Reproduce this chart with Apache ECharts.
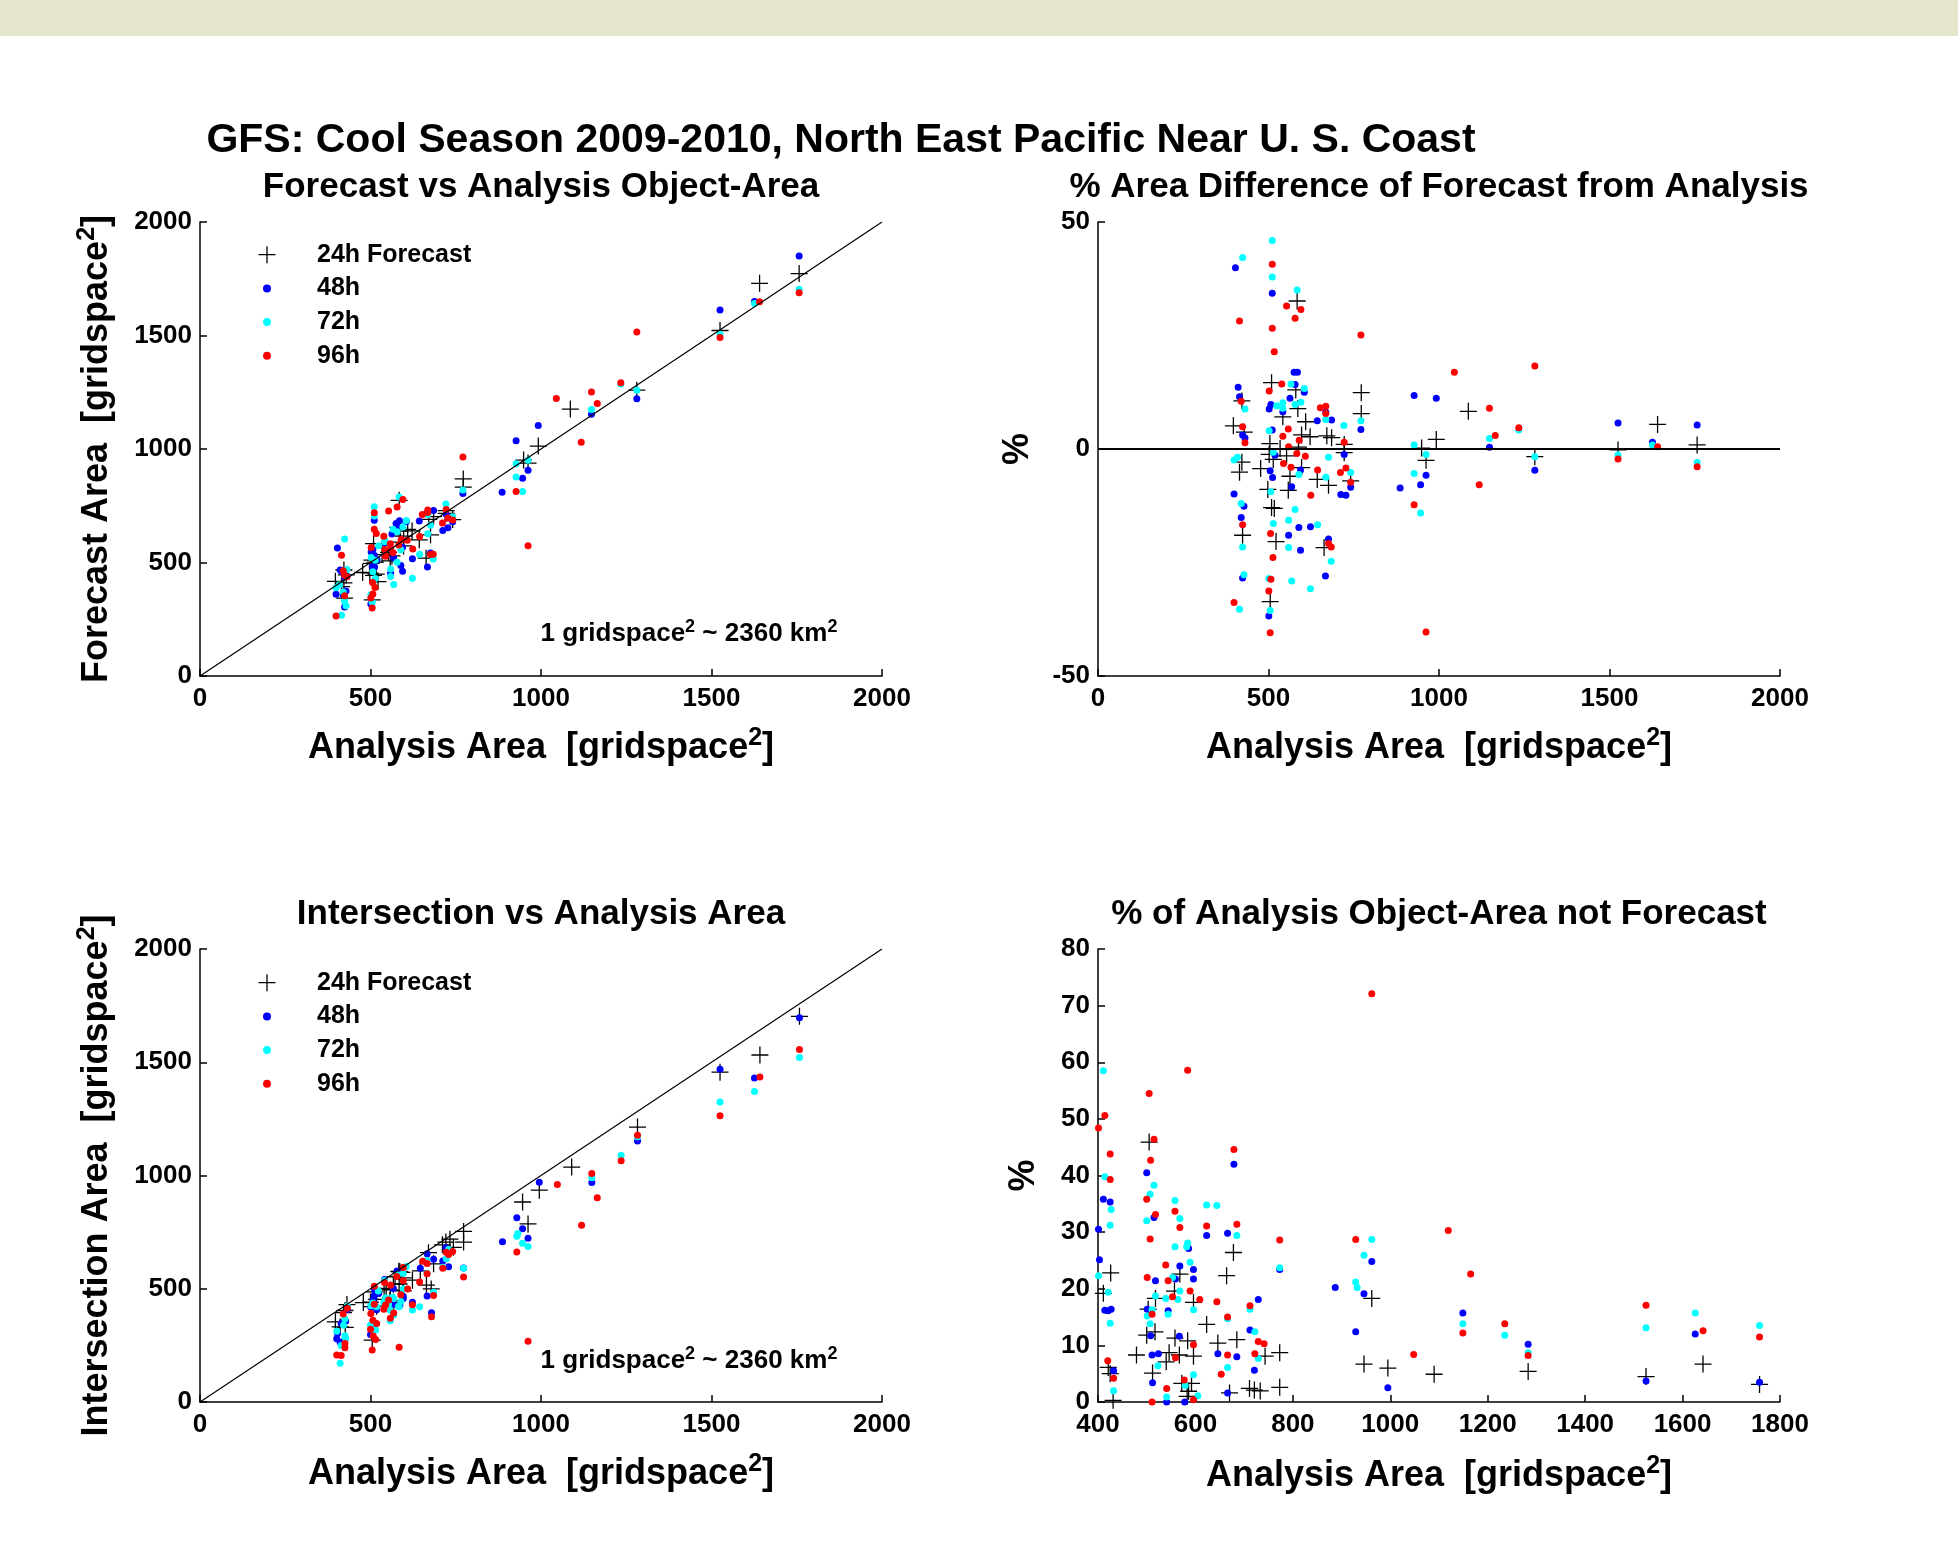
<!DOCTYPE html>
<html>
<head>
<meta charset="utf-8">
<script src="https://cdn.jsdelivr.net/npm/echarts@6/dist/echarts.min.js"></script>
<style>html,body{margin:0;padding:0;background:#fff}#c{width:1958px;height:1550px}</style>
</head>
<body>
<div id="c"></div>
<script>
// ---------------- DATA ----------------
const seriesNames = ['24h Forecast', '48h', '72h', '96h'];
const diagonalLine = [[0, 0], [2000, 2000]];
const zeroLine = [[0, 0], [2000, 0]];

// Panel 1: Forecast area vs analysis area  [analysis, forecast]
const fcst24 = [[1757,1773],[1641,1730],[1525,1522],[1281,1259],[1086,1176],[992,1013],[949,951],[962,938],[772,868],[772,832],[584,774],[509,583],[580,655],[422,467],[586,638],[542,580],[609,646],[397,417],[429,445],[597,616],[622,639],[671,690],[685,702],[722,729],[504,510],[422,410],[502,496],[514,502],[534,535],[553,545],[597,573],[563,529],[477,456],[415,394],[643,600],[676,622],[741,689],[722,716],[498,454],[558,507],[509,443],[517,449],[424,343],[522,416],[663,519],[505,335],[588,590]];
const fcst48 = [[1757,1850],[1626,1650],[1525,1612],[1281,1221],[1148,1153],[992,1103],[927,1036],[962,906],[946,871],[886,810],[771,804],[403,564],[511,686],[575,672],[585,684],[411,467],[578,660],[605,681],[415,463],[563,626],[507,557],[502,546],[542,586],[668,722],[685,729],[643,683],[511,532],[424,437],[431,441],[519,512],[722,713],[594,567],[505,481],[512,480],[741,679],[712,641],[727,653],[399,360],[568,521],[428,374],[420,357],[559,453],[589,487],[623,516],[594,462],[676,542],[667,480],[424,304],[501,317]];
const fcst72 = [[1757,1704],[1626,1641],[1525,1505],[1281,1259],[1234,1286],[1148,1174],[927,935],[962,950],[927,877],[946,813],[771,819],[511,746],[424,603],[511,705],[584,788],[566,647],[605,685],[431,469],[524,574],[542,597],[542,591],[595,656],[578,635],[668,711],[721,758],[502,522],[399,389],[409,402],[514,510],[589,556],[668,627],[741,702],[676,664],[507,459],[420,370],[578,501],[514,430],[559,471],[559,438],[644,536],[424,332],[684,515],[428,309],[501,358],[568,403],[623,431],[415,268],[505,325]];
const fcst96 = [[1757,1688],[1641,1649],[1525,1491],[1281,1515],[1234,1292],[1148,1251],[1165,1200],[1045,1222],[1118,1030],[927,813],[962,574],[771,965],[511,719],[553,727],[595,778],[578,745],[415,532],[511,647],[517,628],[539,616],[502,566],[420,464],[652,711],[668,731],[668,720],[424,445],[558,583],[431,437],[542,557],[590,601],[722,733],[559,562],[583,577],[608,598],[566,543],[544,527],[644,614],[711,674],[727,696],[741,687],[624,560],[424,353],[506,412],[676,535],[684,536],[513,390],[507,361],[501,344],[399,264],[505,300]];

// Panel 2: % area difference  [analysis, percent]
const diff24 = [[1757,0.9],[1641,5.4],[1525,-0.2],[1281,-1.7],[1086,8.3],[992,2.1],[949,0.2],[962,-2.5],[772,12.4],[772,7.8],[584,32.6],[509,14.6],[580,13.0],[422,10.6],[586,8.9],[542,7.1],[609,6.0],[397,5.1],[429,3.7],[597,3.1],[622,2.7],[671,2.9],[685,2.5],[722,1.0],[504,1.2],[422,-2.9],[502,-1.2],[514,-2.3],[534,0.1],[553,-1.5],[597,-4.1],[563,-6.0],[477,-4.3],[415,-5.1],[643,-6.7],[676,-8.0],[741,-7.0],[722,-0.8],[498,-8.9],[558,-9.1],[509,-12.9],[517,-13.1],[424,-19.0],[522,-20.4],[663,-21.7],[505,-33.6],[588,0.4]];
const diff48 = [[1757,5.3],[1626,1.5],[1525,5.7],[1281,-4.7],[1148,0.4],[992,11.2],[927,11.8],[962,-5.8],[946,-7.9],[886,-8.6],[771,4.3],[403,39.9],[511,34.3],[575,16.9],[585,16.9],[411,13.6],[578,14.2],[605,12.5],[415,11.5],[563,11.2],[507,9.8],[502,8.8],[542,8.2],[668,8.1],[685,6.4],[643,6.2],[511,4.2],[424,3.1],[431,2.4],[519,-1.4],[722,-1.2],[594,-4.6],[505,-4.8],[512,-6.3],[741,-8.4],[712,-10.0],[727,-10.2],[399,-9.9],[568,-8.3],[428,-12.6],[420,-15.1],[559,-19.0],[589,-17.3],[623,-17.1],[594,-22.3],[676,-19.8],[667,-28.0],[424,-28.4],[501,-36.8]];
const diff72 = [[1757,-3.0],[1626,0.9],[1525,-1.3],[1281,-1.7],[1234,4.2],[1148,2.3],[927,0.9],[962,-1.2],[927,-5.4],[946,-14.1],[771,6.2],[511,45.9],[424,42.2],[511,37.9],[584,35.0],[566,14.3],[605,13.3],[431,8.8],[524,9.5],[542,10.2],[542,9.0],[595,10.3],[578,9.8],[668,6.5],[721,5.2],[502,4.0],[399,-2.4],[409,-1.8],[514,-0.7],[589,-5.6],[668,-6.2],[741,-5.2],[676,-1.8],[507,-9.4],[420,-12.0],[578,-13.3],[514,-16.4],[559,-15.7],[559,-21.7],[644,-16.7],[424,-21.6],[684,-24.7],[428,-27.7],[501,-28.5],[568,-29.1],[623,-30.8],[415,-35.3],[505,-35.6]];
const diff96 = [[1757,-3.9],[1641,0.5],[1525,-2.2],[1281,18.3],[1234,4.7],[1148,9.0],[1165,3.0],[1045,16.9],[1118,-7.9],[927,-12.3],[962,-40.3],[771,25.1],[511,40.7],[553,31.5],[595,30.7],[578,28.8],[415,28.2],[511,26.6],[517,21.4],[539,14.3],[502,12.8],[420,10.5],[652,9.1],[668,9.4],[668,7.8],[424,4.9],[558,4.4],[431,1.4],[542,2.8],[590,1.9],[722,1.5],[559,0.5],[583,-1.0],[608,-1.6],[566,-4.0],[544,-3.2],[644,-4.6],[711,-5.2],[727,-4.2],[741,-7.3],[624,-10.2],[424,-16.7],[506,-18.6],[676,-20.8],[684,-21.6],[513,-23.9],[507,-28.7],[501,-31.3],[399,-33.8],[505,-40.5]];

// Panel 3: Intersection area vs analysis area  [analysis, intersection]
const inter24 = [[773,706],[773,753],[962,786],[946,883],[995,935],[1090,1037],[1283,1214],[1525,1456],[1642,1532],[1758,1703],[505,273],[678,499],[426,329],[568,440],[664,516],[557,448],[596,491],[411,332],[518,423],[503,421],[623,538],[517,453],[500,441],[558,495],[584,521],[646,579],[685,610],[397,354],[479,439],[546,498],[567,520],[596,548],[743,683],[540,502],[421,395],[425,404],[512,486],[572,553],[592,572],[586,575],[583,577],[670,659],[711,694],[721,706],[733,719],[431,430]];
const inter48 = [[773,592],[962,723],[946,765],[929,814],[995,970],[887,708],[1149,969],[1283,1152],[1525,1469],[1626,1431],[1758,1696],[679,394],[500,298],[411,264],[425,275],[515,347],[401,279],[623,440],[666,468],[586,427],[568,432],[403,302],[518,407],[559,438],[596,457],[596,467],[729,597],[414,347],[421,353],[427,357],[501,419],[544,456],[712,622],[508,449],[567,501],[511,469],[524,479],[646,591],[685,630],[432,408],[721,681],[512,495],[578,578],[541,541],[666,655]];
const inter72 = [[773,590],[962,686],[946,701],[929,732],[932,744],[1149,990],[1235,1089],[1283,1171],[1525,1325],[1626,1371],[1758,1521],[411,171],[414,249],[515,318],[507,321],[427,282],[558,359],[500,340],[623,406],[644,421],[685,484],[568,384],[425,292],[558,405],[584,420],[582,423],[589,444],[401,312],[553,431],[568,457],[564,462],[539,440],[596,499],[421,339],[518,421],[712,595],[425,366],[501,425],[511,428],[544,460],[666,568],[507,437],[722,632],[729,673],[523,490],[666,625],[596,567],[579,562],[541,536],[605,598],[432,423]];
const inter96 = [[773,552],[962,268],[929,662],[1048,960],[1119,780],[1165,902],[1149,1009],[1235,1065],[1283,1178],[1525,1264],[1642,1435],[1758,1556],[584,242],[505,230],[414,205],[401,207],[515,276],[425,239],[679,376],[508,291],[425,258],[500,321],[558,370],[518,347],[623,429],[685,470],[568,393],[507,361],[539,409],[501,391],[544,428],[589,474],[553,450],[609,499],[644,530],[712,591],[511,432],[666,566],[596,536],[729,651],[741,665],[559,515],[666,611],[722,661],[420,389],[432,414],[653,621],[577,554],[541,528],[596,594],[511,511]];

// Panel 4: % of analysis object-area not forecast  [analysis, percent]
const miss24 = [[773,8.7],[773,2.6],[962,18.3],[946,6.7],[995,6.0],[1090,4.9],[1283,5.4],[1525,4.5],[1642,6.7],[1758,3.1],[505,45.9],[678,26.4],[426,22.8],[568,22.6],[664,22.3],[557,19.6],[596,17.6],[411,19.2],[518,18.3],[503,16.4],[623,13.7],[517,12.4],[500,11.8],[558,11.3],[584,10.8],[646,10.4],[685,11.0],[397,10.8],[479,8.3],[546,8.7],[567,8.3],[596,8.1],[743,8.1],[540,7.1],[421,6.1],[425,5.0],[512,5.1],[572,3.3],[592,3.3],[586,1.9],[583,1.0],[670,1.6],[711,2.4],[721,2.1],[733,1.95],[431,0.3]];
const miss48 = [[773,23.4],[962,24.8],[946,19.1],[929,12.4],[995,2.5],[887,20.2],[1149,15.7],[1283,10.2],[1525,3.7],[1626,12.0],[1758,3.5],[679,42.0],[500,40.5],[411,35.8],[425,35.3],[515,32.6],[401,30.5],[623,29.4],[666,29.8],[586,27.1],[568,24.0],[403,25.1],[518,21.4],[559,21.7],[596,23.4],[596,21.7],[729,18.1],[414,16.2],[421,16.1],[427,16.4],[501,16.4],[544,16.1],[712,12.7],[508,11.7],[567,11.6],[511,8.3],[524,8.5],[646,8.5],[685,8.0],[432,5.5],[721,5.6],[512,3.4],[578,0],[541,0],[666,1.6]];
const miss72 = [[773,23.7],[962,28.7],[946,25.9],[929,21.2],[932,20.2],[1149,13.8],[1235,11.8],[1283,8.7],[1525,13.1],[1626,15.7],[1758,13.5],[411,58.5],[414,39.8],[515,38.3],[507,36.7],[427,34.0],[558,35.6],[500,32.0],[623,34.8],[644,34.7],[685,29.4],[568,32.4],[425,31.2],[558,27.4],[584,28.1],[582,27.4],[589,24.7],[401,22.3],[553,22.0],[568,19.6],[564,18.1],[539,18.3],[596,16.3],[421,19.4],[518,18.7],[712,16.4],[425,13.9],[501,15.2],[511,16.3],[544,15.5],[666,14.7],[507,13.8],[722,12.4],[729,7.7],[523,6.4],[666,6.1],[596,4.8],[579,2.9],[541,0.9],[605,1.1],[432,2.0]];
const miss96 = [[773,28.6],[962,72.1],[929,28.7],[1048,8.4],[1119,30.3],[1165,22.6],[1149,12.2],[1235,13.8],[1283,8.2],[1525,17.1],[1642,12.6],[1758,11.5],[584,58.6],[505,54.5],[414,50.6],[401,48.4],[515,46.4],[425,43.8],[679,44.6],[508,42.7],[425,39.3],[500,35.8],[558,33.7],[518,33.1],[623,31.1],[685,31.4],[568,30.8],[507,28.8],[539,24.2],[501,22.0],[544,21.4],[589,19.6],[553,18.6],[609,18.1],[644,17.7],[712,17.0],[511,15.5],[666,15.0],[596,10.1],[729,10.7],[741,10.3],[559,7.8],[666,8.3],[722,8.5],[420,7.3],[432,4.2],[653,4.9],[577,3.9],[541,2.4],[596,0.4],[511,0]];

// ---------------- STYLE / LAYOUT ----------------
const FONT = '"Liberation Sans", Arial, Helvetica, sans-serif';
const PLUS = 'path://M7.4,0h1.2v7.4h7.4v1.2h-7.4v7.4h-1.2v-7.4h-7.4v-1.2h7.4z';
const COLORS = ['#000000', '#0000ff', '#00ffff', '#ff0000'];

const grids = [
  {left: 200, top: 222, width: 682, height: 454},
  {left: 1098, top: 222, width: 682, height: 454},
  {left: 200, top: 949, width: 682, height: 453},
  {left: 1098, top: 949, width: 682, height: 453}
].map(g => Object.assign(g, {containLabel: false, outerBoundsMode: 'none'}));

const richName = {
  a: {fontFamily: FONT, fontWeight: 'bold', fontSize: 36, color: '#000', lineHeight: 44},
  s: {fontFamily: FONT, fontWeight: 'bold', fontSize: 25, color: '#000', lineHeight: 22, verticalAlign: 'top'}
};
function axis(gridIndex, min, max, interval, name, nameGap, isY) {
  return {
    type: 'value', gridIndex, min, max, interval,
    name, nameLocation: 'middle', nameGap, nameRotate: isY ? 90 : 0, nameMoveOverlap: false,
    nameTextStyle: {fontFamily: FONT, fontWeight: 'bold', fontSize: 36, color: '#000', rich: richName},
    axisLine: {show: true, onZero: false, lineStyle: {color: '#000', width: 1.5}},
    axisTick: {show: true, inside: true, length: 7, lineStyle: {color: '#000', width: 1.5}},
    axisLabel: {show: true, color: '#000', fontFamily: FONT, fontWeight: 'bold', fontSize: 26, margin: isY ? 8 : 10,
      hideOverlap: false, showMinLabel: true, showMaxLabel: true, formatter: v => String(v)},
    splitLine: {show: false}, splitArea: {show: false}
  };
}
const areaName = '{a|Analysis Area  [gridspace}{s|2}{a|]}';
const xAxes = [
  axis(0, 0, 2000, 500, areaName, 50, false),
  axis(1, 0, 2000, 500, areaName, 50, false),
  axis(2, 0, 2000, 500, areaName, 50, false),
  axis(3, 400, 1800, 200, areaName, 52, false)
];
const yAxes = [
  axis(0, 0, 2000, 500, '{a|Forecast Area  [gridspace}{s|2}{a|]}', 81, true),
  axis(1, -50, 50, 50, '{a|%}', 58, true),
  axis(2, 0, 2000, 500, '{a|Intersection Area  [gridspace}{s|2}{a|]}', 81, true),
  axis(3, 0, 80, 10, '{a|%}', 52, true)
];

function scatter(nameIdx, data, idx) {
  const isPlus = nameIdx === 0;
  return {
    type: 'scatter', name: seriesNames[nameIdx], data, xAxisIndex: idx, yAxisIndex: idx,
    symbol: isPlus ? PLUS : 'circle', symbolSize: isPlus ? 17 : 7,
    itemStyle: {color: COLORS[nameIdx], opacity: 1, borderWidth: 0},
    emphasis: {disabled: true}, silent: true, animation: false, z: 2 + nameIdx * 0.01
  };
}
function refLine(data, idx, width) {
  return {
    type: 'line', name: 'ref' + idx, data, xAxisIndex: idx, yAxisIndex: idx,
    symbol: 'none', showSymbol: false, lineStyle: {color: '#000', width},
    emphasis: {disabled: true}, silent: true, animation: false, z: 5
  };
}
const panels = [
  [fcst24, fcst48, fcst72, fcst96],
  [diff24, diff48, diff72, diff96],
  [inter24, inter48, inter72, inter96],
  [miss24, miss48, miss72, miss96]
];
const series = [];
panels.forEach((sets, p) => sets.forEach((d, k) => series.push(scatter(k, d, p))));
series.push(refLine(diagonalLine, 0, 1.2));
series.push(refLine(zeroLine, 1, 2.2));
series.push(refLine(diagonalLine, 2, 1.2));

function legendPair(rowTop) {
  const common = {orient: 'vertical', padding: 0, selectedMode: false, inactiveColor: '#000',
    itemStyle: {borderWidth: 0}};
  return [
    Object.assign({}, common, {
      left: 258.5, top: rowTop - 15, itemWidth: 17, itemHeight: 17, itemGap: 4,
      data: [{name: seriesNames[0], icon: PLUS}],
      textStyle: {fontFamily: FONT, fontWeight: 'bold', fontSize: 25, color: '#000', lineHeight: 30, padding: [0, 0, 0, 36.5]}
    }),
    Object.assign({}, common, {
      left: 263, top: rowTop + 33.7 - 15, itemWidth: 8, itemHeight: 8, itemGap: 3.7,
      data: [{name: seriesNames[1], icon: 'circle'}, {name: seriesNames[2], icon: 'circle'}, {name: seriesNames[3], icon: 'circle'}],
      textStyle: {fontFamily: FONT, fontWeight: 'bold', fontSize: 25, color: '#000', lineHeight: 30, padding: [0, 0, 0, 41]}
    })
  ];
}

function ttl(text, x, y, size, rich) {
  const t = {text, left: x, top: y, textAlign: 'center', textVerticalAlign: 'middle', padding: 0,
    textStyle: {fontFamily: FONT, fontWeight: 'bold', fontSize: size, color: '#000'}};
  if (rich) t.textStyle.rich = rich;
  return t;
}
const richNote = {
  a: {fontFamily: FONT, fontWeight: 'bold', fontSize: 26, color: '#000', lineHeight: 32},
  s: {fontFamily: FONT, fontWeight: 'bold', fontSize: 18, color: '#000', lineHeight: 16, verticalAlign: 'top'}
};
const note = '{a|1 gridspace}{s|2}{a| ~ 2360 km}{s|2}';

const option = {
  backgroundColor: '#ffffff',
  animation: false,
  graphic: [{type: 'rect', left: 0, top: 0, shape: {x: 0, y: 0, width: 1958, height: 36}, style: {fill: '#e5e5cb'}, silent: true, z: -10}],
  title: [
    ttl('GFS: Cool Season 2009-2010, North East Pacific Near U. S. Coast', 841, 141, 41),
    ttl('Forecast vs Analysis Object-Area', 541, 187, 35),
    ttl('% Area Difference of Forecast from Analysis', 1439, 187, 35),
    ttl('Intersection vs Analysis Area', 541, 914, 35),
    ttl('% of Analysis Object-Area not Forecast', 1439, 914, 35),
    ttl(note, 689, 634, 26, richNote),
    ttl(note, 689, 1361, 26, richNote)
  ],
  legend: [].concat(legendPair(254.7), legendPair(982.7)),
  grid: grids,
  xAxis: xAxes,
  yAxis: yAxes,
  series
};
const chart = echarts.init(document.getElementById('c'), null, {renderer: 'canvas', width: 1958, height: 1550});
chart.setOption(option);
</script>
</body>
</html>
